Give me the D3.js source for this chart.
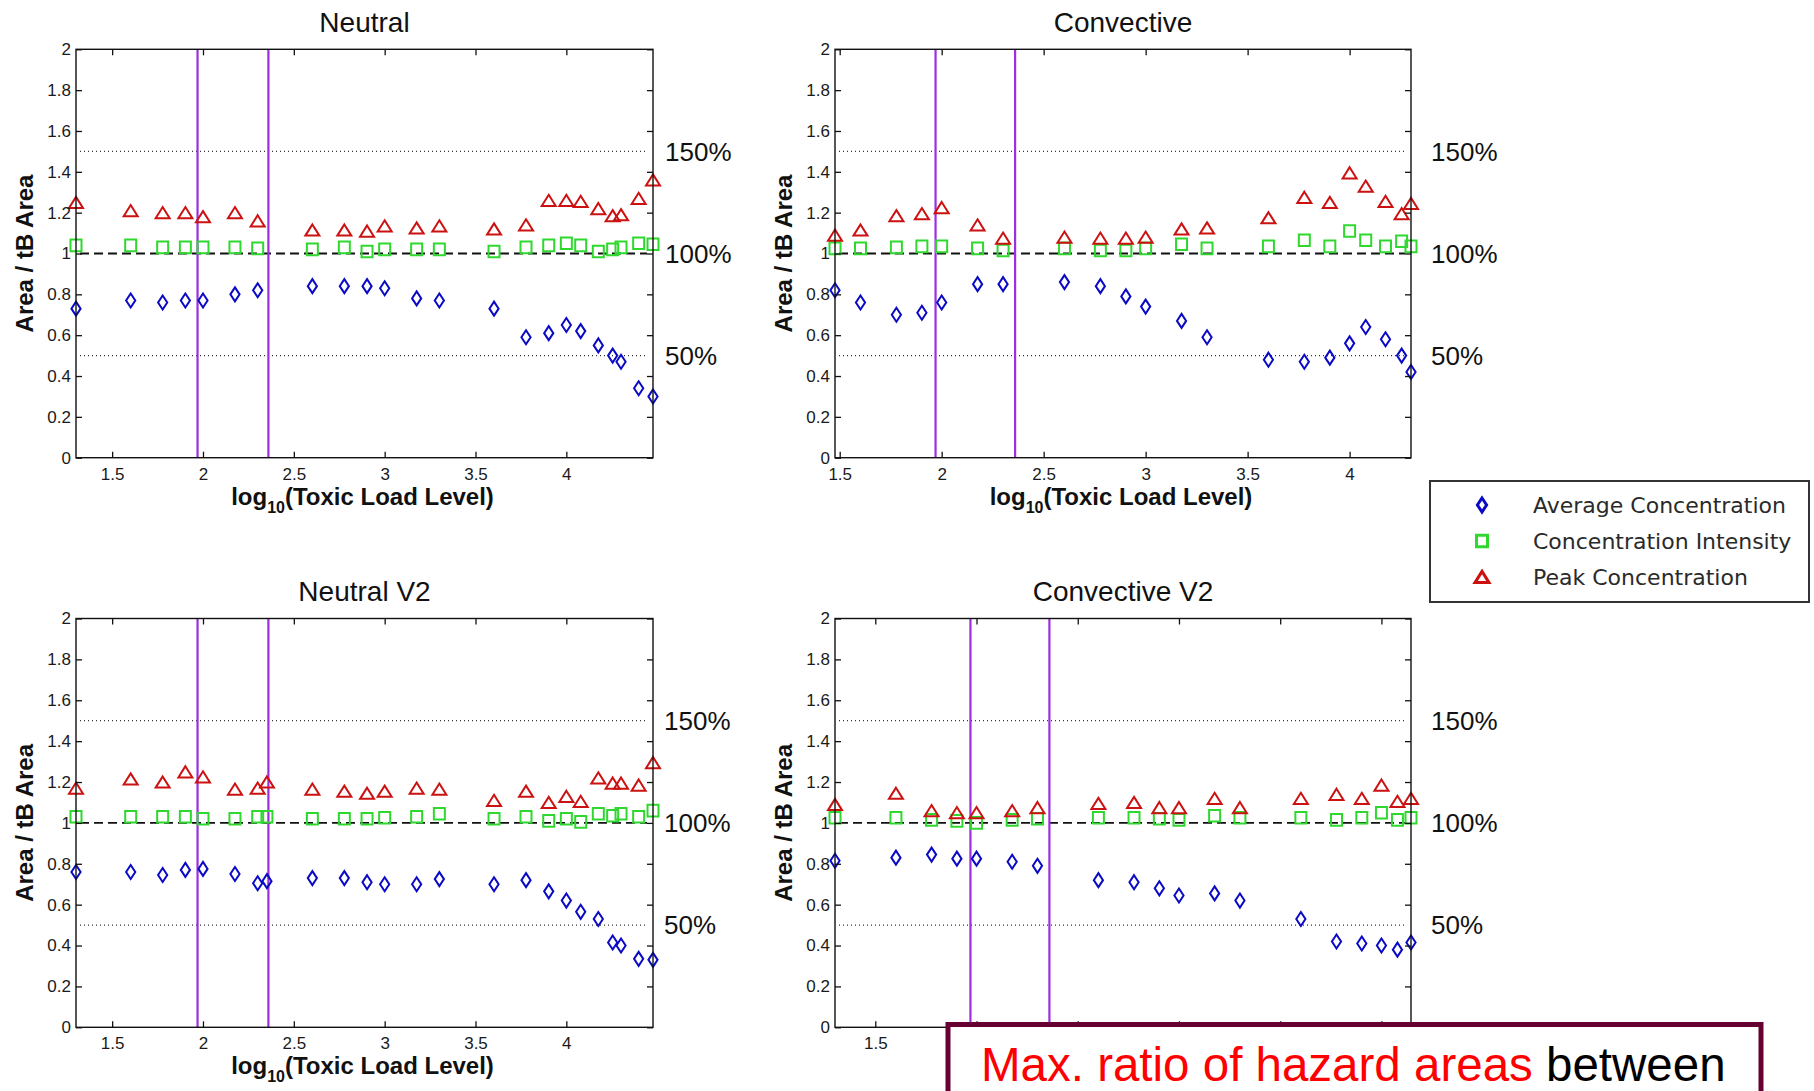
<!DOCTYPE html>
<html>
<head>
<meta charset="utf-8">
<script src="https://cdn.jsdelivr.net/npm/d3@7"></script>
<style>
  body { margin: 0; background: #fff; }
  svg { display: block; }
  text { font-family: "Liberation Sans", Arial, sans-serif; }
</style>
</head>
<body>
<svg id="chart" width="1814" height="1091"></svg>
<script>
// x values are log10(toxic load level)
const neutralX = [1.301, 1.602, 1.778, 1.903, 2.0, 2.176, 2.301, 2.602, 2.778, 2.903, 3.0, 3.176, 3.301, 3.602, 3.778, 3.903, 4.0, 4.079, 4.176, 4.255, 4.301, 4.398, 4.477]
const neutralAvg = [0.73, 0.77, 0.76, 0.77, 0.77, 0.80, 0.82, 0.84, 0.84, 0.84, 0.83, 0.78, 0.77, 0.73, 0.59, 0.61, 0.65, 0.62, 0.55, 0.50, 0.47, 0.34, 0.30]
const neutralInt = [1.04, 1.04, 1.03, 1.03, 1.03, 1.03, 1.025, 1.02, 1.03, 1.01, 1.02, 1.02, 1.02, 1.01, 1.03, 1.04, 1.05, 1.04, 1.01, 1.02, 1.03, 1.05, 1.045]
const neutralPeak = [1.25, 1.21, 1.20, 1.20, 1.18, 1.20, 1.16, 1.115, 1.115, 1.11, 1.135, 1.125, 1.135, 1.12, 1.14, 1.26, 1.26, 1.255, 1.22, 1.185, 1.19, 1.27, 1.36]

const convX = [1.477, 1.602, 1.778, 1.903, 2.0, 2.176, 2.301, 2.602, 2.778, 2.903, 3.0, 3.176, 3.301, 3.602, 3.778, 3.903, 4.0, 4.079, 4.176, 4.255, 4.301]
const convAvg = [0.82, 0.76, 0.70, 0.71, 0.76, 0.85, 0.85, 0.86, 0.84, 0.79, 0.74, 0.67, 0.59, 0.48, 0.47, 0.49, 0.56, 0.64, 0.58, 0.50, 0.42]
const convInt = [1.025, 1.025, 1.03, 1.035, 1.035, 1.025, 1.015, 1.025, 1.015, 1.015, 1.025, 1.045, 1.025, 1.035, 1.065, 1.035, 1.11, 1.065, 1.035, 1.06, 1.035]
const convPeak = [1.09, 1.115, 1.185, 1.195, 1.225, 1.14, 1.075, 1.08, 1.075, 1.075, 1.08, 1.12, 1.125, 1.175, 1.275, 1.25, 1.395, 1.33, 1.255, 1.195, 1.245]

const neutralV2X = [1.301, 1.602, 1.778, 1.903, 2.0, 2.176, 2.301, 2.352, 2.602, 2.778, 2.903, 3.0, 3.176, 3.301, 3.602, 3.778, 3.903, 4.0, 4.079, 4.176, 4.255, 4.301, 4.398, 4.477]
const neutralV2Avg = [0.76, 0.76, 0.745, 0.77, 0.775, 0.75, 0.705, 0.715, 0.73, 0.73, 0.71, 0.70, 0.70, 0.725, 0.70, 0.72, 0.665, 0.62, 0.565, 0.53, 0.415, 0.40, 0.335, 0.33]
const neutralV2Int = [1.03, 1.03, 1.03, 1.03, 1.02, 1.02, 1.03, 1.03, 1.02, 1.02, 1.02, 1.025, 1.03, 1.045, 1.02, 1.03, 1.01, 1.02, 1.005, 1.045, 1.035, 1.045, 1.03, 1.06]
const neutralV2Peak = [1.17, 1.215, 1.20, 1.25, 1.225, 1.165, 1.17, 1.20, 1.165, 1.155, 1.145, 1.155, 1.17, 1.165, 1.11, 1.155, 1.10, 1.13, 1.105, 1.22, 1.195, 1.195, 1.185, 1.295]

const convV2X = [1.301, 1.602, 1.778, 1.903, 2.0, 2.176, 2.301, 2.602, 2.778, 2.903, 3.0, 3.176, 3.301, 3.602, 3.778, 3.903, 4.0, 4.079, 4.146]
const convV2Avg = [0.815, 0.83, 0.845, 0.825, 0.825, 0.81, 0.79, 0.72, 0.71, 0.68, 0.645, 0.655, 0.62, 0.53, 0.42, 0.41, 0.40, 0.38, 0.415]
const convV2Int = [1.025, 1.025, 1.015, 1.01, 1.0, 1.015, 1.02, 1.025, 1.025, 1.02, 1.015, 1.035, 1.025, 1.025, 1.015, 1.025, 1.05, 1.015, 1.025]
const convV2Peak = [1.09, 1.145, 1.06, 1.05, 1.05, 1.06, 1.075, 1.095, 1.10, 1.075, 1.075, 1.12, 1.075, 1.12, 1.14, 1.12, 1.185, 1.105, 1.12]

const xTicks = [1.5, 2, 2.5, 3, 3.5, 4]
const yTicks = [0, 0.2, 0.4, 0.6, 0.8, 1, 1.2, 1.4, 1.6, 1.8, 2]
const refLevels = [1.5, 1, 0.5]
const refLabels = ['150%', '100%', '50%']
const purpleX = [1.97, 2.36]
const seriesNames = ['Average Concentration', 'Concentration Intensity', 'Peak Concentration']

const svg = d3.select('#chart')

const shapes = {
  diamond: 'M0,-7L4.6,0L0,7L-4.6,0Z',
  square: 'M-5.5,-5.8h11v11.6h-11Z',
  triangle: 'M0,-5.6L7,5.6L-7,5.6Z'
}
const seriesStyle = [
  { shape: 'diamond', color: '#0a0ac4' },
  { shape: 'square', color: '#2fd82f' },
  { shape: 'triangle', color: '#cc1111' }
]

function drawPanel(p) {
  const g = svg.append('g')
  const x = d3.scaleLinear().domain([p.x[0], p.x[p.x.length - 1]]).range([p.left, p.right])
  const y = d3.scaleLinear().domain([0, 2]).range([p.bottom, p.top])

  // dotted 50% / 150% lines and dashed 100% line
  g.selectAll('.ref')
    .data(refLevels)
    .enter().append('line')
    .attr('x1', p.left + 4).attr('x2', p.right - 6)
    .attr('y1', d => y(d)).attr('y2', d => y(d))
    .attr('stroke', d => d === 1 ? '#111' : '#333')
    .attr('stroke-width', d => d === 1 ? 1.8 : 1.2)
    .attr('stroke-dasharray', d => d === 1 ? '9,5' : '1,3')

  g.selectAll('.purple')
    .data(purpleX)
    .enter().append('line')
    .attr('x1', d => x(d)).attr('x2', d => x(d))
    .attr('y1', p.top).attr('y2', p.bottom)
    .attr('stroke', '#9a2ee0')
    .attr('stroke-width', 2.2)

  p.series.forEach((vals, i) => {
    const st = seriesStyle[i]
    g.selectAll('.m' + i)
      .data(vals)
      .enter().append('path')
      .attr('d', shapes[st.shape])
      .attr('transform', (d, j) => `translate(${x(p.x[j])},${y(d)})`)
      .attr('fill', 'none')
      .attr('stroke', st.color)
      .attr('stroke-width', 2)
  })

  // axes with inward ticks on all four sides
  const bottom = g.append('g')
    .attr('transform', `translate(0,${p.bottom})`)
    .call(d3.axisBottom(x).tickValues(xTicks).tickSizeInner(-6).tickSizeOuter(0).tickPadding(10).tickFormat(d => d))
  const top = g.append('g')
    .attr('transform', `translate(0,${p.top})`)
    .call(d3.axisTop(x).tickValues(xTicks).tickSizeInner(-6).tickSizeOuter(0).tickFormat(''))
  const left = g.append('g')
    .attr('transform', `translate(${p.left},0)`)
    .call(d3.axisLeft(y).tickValues(yTicks).tickSizeInner(-6).tickSizeOuter(0).tickPadding(5).tickFormat(d => d))
  const right = g.append('g')
    .attr('transform', `translate(${p.right},0)`)
    .call(d3.axisRight(y).tickValues(yTicks).tickSizeInner(-6).tickSizeOuter(0).tickFormat(''))

  ;[bottom, top, left, right].forEach(a => {
    a.select('.domain').remove()
    a.selectAll('line').attr('stroke', '#111').attr('stroke-width', 1.3)
    a.selectAll('text').attr('font-size', 17).attr('fill', '#1a1a1a')
      .style('font-family', '"Liberation Sans", Arial, sans-serif')
  })

  // tick labels hidden under the caption box are not drawn
  if (p.coverX != null) {
    bottom.selectAll('.tick').filter(d => x(d) > p.coverX).select('text').remove()
  }

  g.append('rect')
    .attr('x', p.left).attr('y', p.top)
    .attr('width', p.right - p.left).attr('height', p.bottom - p.top)
    .attr('fill', 'none').attr('stroke', '#111').attr('stroke-width', 1.4)

  g.append('text')
    .attr('x', (p.left + p.right) / 2).attr('y', p.top - 17.5)
    .attr('text-anchor', 'middle').attr('font-size', 28).attr('fill', '#111')
    .text(p.title)

  if (p.coverX == null) {
    const xl = g.append('text')
      .attr('x', (p.left + p.right) / 2 - 2).attr('y', p.bottom + 47)
      .attr('text-anchor', 'middle').attr('font-size', 24).attr('font-weight', 'bold').attr('fill', '#111')
    xl.append('tspan').text('log')
    xl.append('tspan').attr('font-size', 16).attr('dy', 8).text('10')
    xl.append('tspan').attr('dy', -8).text('(Toxic Load Level)')
  }

  g.append('text')
    .attr('transform', `translate(${p.left - 43},${(p.top + p.bottom) / 2}) rotate(-90)`)
    .attr('text-anchor', 'middle').attr('font-size', 24).attr('font-weight', 'bold').attr('fill', '#111')
    .text('Area / tB Area')

  g.selectAll('.pct')
    .data(refLevels)
    .enter().append('text')
    .attr('x', p.pctX).attr('y', d => y(d)).attr('dy', '0.36em')
    .attr('font-size', 26).attr('fill', '#111')
    .text((d, i) => refLabels[i])
}

drawPanel({ title: 'Neutral', x: neutralX, series: [neutralAvg, neutralInt, neutralPeak],
  left: 76, right: 653, top: 49.3, bottom: 457.7, pctX: 665 })
drawPanel({ title: 'Convective', x: convX, series: [convAvg, convInt, convPeak],
  left: 835, right: 1411, top: 49.3, bottom: 457.7, pctX: 1431 })
drawPanel({ title: 'Neutral V2', x: neutralV2X, series: [neutralV2Avg, neutralV2Int, neutralV2Peak],
  left: 76, right: 653, top: 618.5, bottom: 1027.3, pctX: 664 })
drawPanel({ title: 'Convective V2', x: convV2X, series: [convV2Avg, convV2Int, convV2Peak],
  left: 835, right: 1411, top: 618.5, bottom: 1027.3, pctX: 1431, coverX: 940 })

// legend
const legend = svg.append('g')
legend.append('rect')
  .attr('x', 1430).attr('y', 481).attr('width', 379).attr('height', 121)
  .attr('fill', '#fff').attr('stroke', '#333').attr('stroke-width', 2)
const legendY = d3.scalePoint().domain(seriesNames).range([505, 577])
seriesNames.forEach((name, i) => {
  const st = seriesStyle[i]
  legend.append('path')
    .attr('d', shapes[st.shape])
    .attr('transform', `translate(1482,${legendY(name)})`)
    .attr('fill', 'none').attr('stroke', st.color).attr('stroke-width', 3)
  legend.append('text')
    .attr('x', 1533).attr('y', legendY(name)).attr('dy', '0.36em')
    .attr('font-size', 22).attr('fill', '#2a2a2a')
    .style('font-family', '"DejaVu Sans", Verdana, sans-serif')
    .text(name)
})

// overlapping caption box from the slide
const note = svg.append('g')
note.append('rect')
  .attr('x', 948).attr('y', 1024.5).attr('width', 813).attr('height', 100)
  .attr('fill', '#fff').attr('stroke', '#660033').attr('stroke-width', 5)
const noteText = note.append('text')
  .attr('x', 981).attr('y', 1080.5).attr('font-size', 47.5)
noteText.append('tspan').attr('fill', '#ff0000').text('Max. ratio of hazard areas ')
noteText.append('tspan').attr('fill', '#000').text('between')
</script>
</body>
</html>
